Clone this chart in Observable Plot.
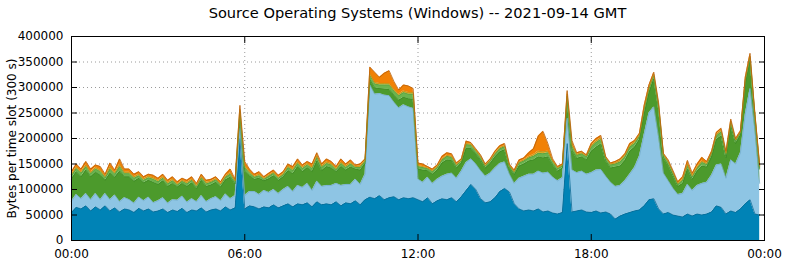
<!DOCTYPE html>
<html><head><meta charset="utf-8">
<script src="https://cdn.jsdelivr.net/npm/d3@7"></script>
<script src="https://cdn.jsdelivr.net/npm/@observablehq/plot@0.6"></script>
<style>
body{margin:0;background:#fff;font-family:"DejaVu Sans",sans-serif;}
#title{width:785px;height:24px;box-sizing:border-box;padding-left:71px;padding-right:21px;text-align:center;font-size:14.6px;line-height:25px;color:#000;white-space:nowrap;}
#chart svg{display:block;}
</style></head><body>
<div id="title">Source Operating Systems (Windows) -- 2021-09-14 GMT</div>
<div id="chart"></div>
<script>
// 10-minute slots, values in thousands of bytes per 300 s slot
const slotMinutes = 10;
const seriesNames = ["os1", "os2", "os3", "os4", "os5", "os6"];
const fillColors = ["#0083b6", "#8ec5e4", "#4c9a2c", "#6bb44e", "#d9ad25", "#f18106"];
const edgeColors = ["#0b6b96", "#74adcc", "#3e8a24", "#58a03e", "#c08f14", "#b8600a"];

const darkBlue = [
 55,65,62,68,58,66, 60,68,58,64,56,62, 60,55,63,58,62,56, 58,62,55,60,57,63,
 55,60,58,64,56,60, 62,58,66,60,64,200, 62,68,66,62,66,64, 70,64,68,72,66,72,
 70,74,66,76,70,72, 70,76,68,74,72,78, 70,80,85,82,88,80, 84,86,80,84,82,84,
 80,76,84,72,78,82, 80,84,76,86,98,110, 100,82,74,76,84,96, 102,95,72,62,58,60,
 58,62,56,58,54,52, 55,190,56,58,60,56, 55,58,54,56,52,42, 48,52,55,58,60,68,
 80,82,62,52,55,50, 48,46,52,48,52,50, 52,56,68,65,52,58, 55,62,72,80,52,50];
const lightBlue = [
 22,25,20,24,22,26, 20,24,22,25,20,22, 20,18,22,20,23,18, 20,22,18,20,22,24,
 20,22,18,24,20,22, 24,20,25,22,24,20, 26,28,30,28,32,30, 30,28,32,34,30,36,
 34,38,32,40,36,36, 38,36,40,36,38,42, 40,50,220,205,200,205, 200,185,180,182,180,175,
 40,38,40,40,42,44, 50,48,46,50,55,50, 50,55,52,56,58,55, 52,35,40,60,68,70,
 72,74,76,76,70,65, 68,50,82,75,76,74, 78,80,85,70,62,64, 60,65,75,85,105,140,
 170,180,140,80,62,52, 42,46,58,50,56,62, 62,72,80,85,70,100, 95,110,175,218,165,62];
const darkGreen = [
 44,45,43,46,45,42, 48,26,52,35,60,41, 45,43,37,35,33,40, 32,33,33,32,26,25,
 31,31,26,30,30,27, 28,27,28,42,23,25, 48,31,24,32,19,27, 27,26,25,31,35,37,
 31,31,37,40,31,37, 34,23,37,28,34,20, 28,21,10,12,10,12, 12,14,15,15,16,18,
 20,24,13,18,18,26, 28,25,20,16,28,21, 20,21,16,19,22,23, 24,13,17,24,24,26,
 28,28,30,30,24,19, 19,35,38,28,28,28, 42,45,50,30,28,38, 38,40,45,40,33,40,
 40,55,55,30,30,25, 16,20,30,22,28,34, 30,36,50,55,40,66, 40,35,60,55,25,28];
const lightGreen = [
 6,6,7,7,6,6, 7,5,8,6,9,6, 6,6,5,5,5,6, 5,5,5,5,4,4,
 5,5,4,5,5,5, 5,4,5,6,4,8, 7,5,4,5,3,5, 5,4,4,6,6,6,
 6,5,6,7,6,6, 6,4,6,5,6,3, 5,4,8,8,7,8, 9,8,9,9,9,10,
 5,5,4,5,5,6, 7,6,5,4,7,6, 5,5,4,5,5,6, 6,3,4,6,6,6,
 7,7,8,8,6,5, 4,8,8,6,6,6, 8,9,9,5,6,6, 8,7,8,7,6,8,
 7,6,6,5,6,5, 4,6,7,5,6,7, 5,6,7,8,6,7, 5,4,6,6,4,4];
const yellow = [
 3,3,3,3,3,3, 3,3,4,3,4,3, 3,3,3,3,3,3, 3,3,3,3,2,2,
 3,2,2,2,3,2, 2,2,2,3,2,4, 4,3,2,3,2,2, 2,2,2,3,3,3,
 3,3,3,3,3,3, 3,2,3,3,3,2, 3,2,4,3,3,3, 3,3,3,3,3,3,
 2,2,1,2,2,2, 2,2,2,1,2,2, 2,2,1,1,2,2, 2,1,2,2,2,2,
 3,4,4,3,2,2, 2,4,4,2,2,2, 3,3,3,2,2,2, 3,3,3,3,3,4,
 3,3,3,2,2,2, 2,2,3,2,2,3, 2,2,3,3,3,3, 2,2,3,3,2,2];
const orange = [
 5,6,5,7,6,5, 7,4,8,5,11,6, 6,5,5,4,4,5, 4,5,4,5,4,4,
 4,5,4,5,4,4, 4,4,4,7,3,8, 8,5,4,5,3,4, 4,4,4,4,5,6,
 4,4,6,6,4,6, 4,4,6,4,5,3, 4,3,13,20,12,20, 25,16,8,12,13,8,
 5,5,3,3,3,5, 5,5,3,3,5,3, 3,3,3,3,4,4, 4,3,3,4,4,8,
 12,30,40,15,4,2, 2,7,8,3,3,2, 4,5,5,2,2,3, 3,3,4,3,3,5,
 5,4,4,2,3,3, 3,5,7,5,6,7, 4,3,4,4,4,4, 3,2,4,5,2,2];

const xTickMinutes = [0, 360, 720, 1080, 1440];
const xTickLabels = ["00:00", "06:00", "12:00", "18:00", "00:00"];
const yTicks = [0, 50000, 100000, 150000, 200000, 250000, 300000, 350000, 400000];
const yLabel = "Bytes per time slot (300 s)";

const layers = [darkBlue, lightBlue, darkGreen, lightGreen, yellow, orange];
const rows = [];
layers.forEach((vals, k) => vals.forEach((v, i) => rows.push({t: i * slotMinutes, s: seriesNames[k], v: v * 1000})));
const fillOf = d => fillColors[seriesNames.indexOf(d.s)];
const edgeOf = d => edgeColors[seriesNames.indexOf(d.s)];

const grid = {stroke: "#9a9a9a", strokeOpacity: 1, strokeWidth: 1, strokeDasharray: "1,3"};

const chart = Plot.plot({
  width: 785, height: 240,
  marginLeft: 71, marginRight: 21, marginTop: 12, marginBottom: 24,
  style: {fontFamily: "DejaVu Sans", fontSize: "12px", background: "white", color: "black", overflow: "visible"},
  x: {type: "linear", domain: [0, 1440]},
  y: {domain: [0, 400000]},
  marks: [
    Plot.gridY({ticks: yTicks.slice(1, -1), ...grid}),
    Plot.gridX({ticks: xTickMinutes.slice(1, -1), ...grid}),
    Plot.areaY(rows, {x: "t", y: "v", z: "s", fill: fillOf, order: seriesNames}),
    Plot.lineY(rows, Plot.stackY2({x: "t", y: "v", z: "s", stroke: edgeOf, order: seriesNames, strokeWidth: 0.8})),
    Plot.axisY({ticks: yTicks, tickSize: -6, tickPadding: 14, tickFormat: d => String(d), label: null}),
    Plot.axisY({ticks: yTicks, anchor: "right", tickSize: -6, tickFormat: () => "", label: null}),
    Plot.axisX({ticks: xTickMinutes, tickSize: -6, tickPadding: 15, tickFormat: (d, i) => xTickLabels[i], label: null}),
    Plot.axisX({ticks: xTickMinutes, anchor: "top", tickSize: -6, tickFormat: () => "", label: null}),
    Plot.frame({stroke: "black", strokeWidth: 1}),
    Plot.text([yLabel], {text: d => d, frameAnchor: "left", textAnchor: "middle", rotate: -90, dx: -59, fontSize: 12})
  ]
});
document.getElementById("chart").appendChild(chart);
</script>
</body></html>
